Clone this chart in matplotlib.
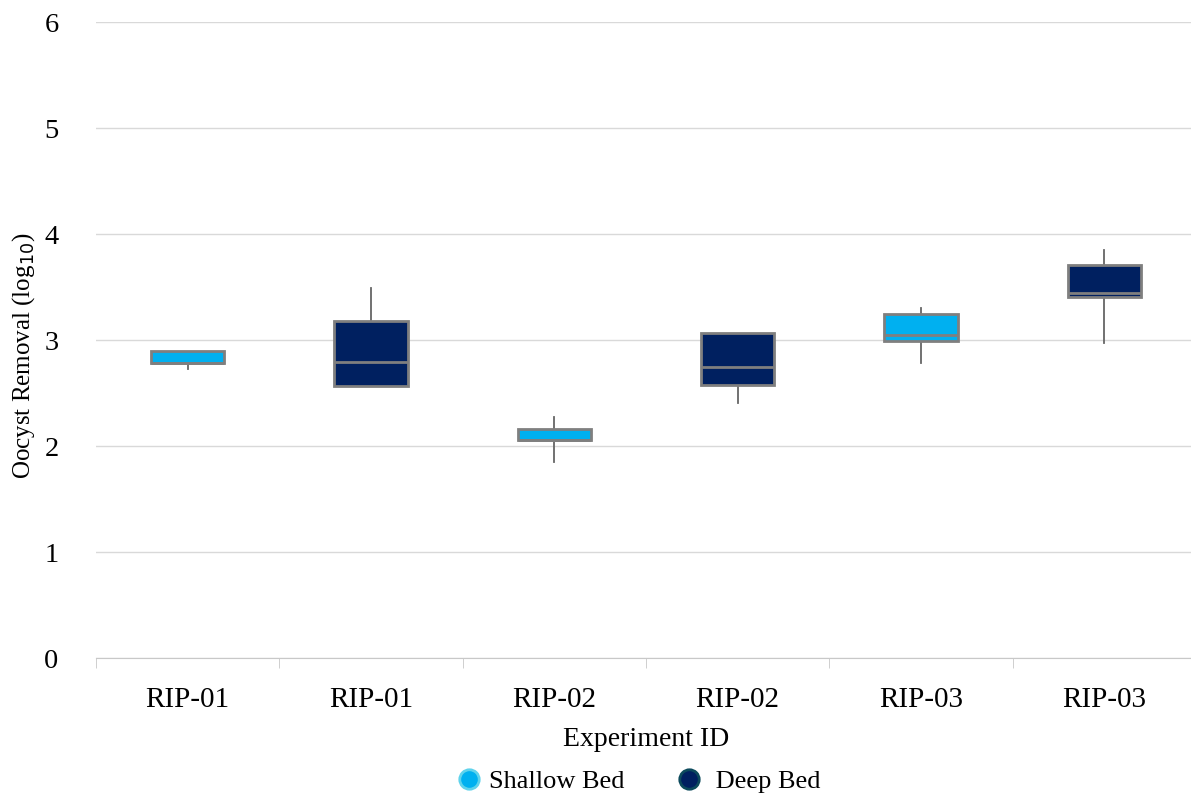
import matplotlib.pyplot as plt
from matplotlib.lines import Line2D

plt.rcParams["font.family"] = ["Liberation Serif", "DejaVu Serif"]

# Oocyst removal summary per column (log10)
experiments = ["RIP-01", "RIP-01", "RIP-02", "RIP-02", "RIP-03", "RIP-03"]
bed = ["shallow", "deep", "shallow", "deep", "shallow", "deep"]
whislo = [2.73, 2.57, 1.85, 2.41, 2.78, 2.97]
q1 = [2.78, 2.57, 2.06, 2.58, 2.99, 3.41]
med = [2.78, 2.79, 2.06, 2.75, 3.05, 3.44]
q3 = [2.90, 3.18, 2.16, 3.07, 3.25, 3.71]
whishi = [2.90, 3.49, 2.27, 3.07, 3.30, 3.85]

colors = {"shallow": "#00B0F0", "deep": "#002060"}
edge = "#7f7f7f"

fig = plt.figure(figsize=(11.91, 7.96), dpi=100)
ax = fig.add_axes([96 / 1191, 1 - 658 / 796, 1100 / 1191, 636 / 796])

stats = []
for i in range(len(experiments)):
    stats.append(dict(label=experiments[i], whislo=whislo[i], q1=q1[i],
                      med=med[i], q3=q3[i], whishi=whishi[i]))

bp = ax.bxp(stats, positions=range(len(stats)), widths=0.4, patch_artist=True,
            showfliers=False, showcaps=False,
            boxprops=dict(edgecolor=edge, linewidth=2),
            medianprops=dict(color=edge, linewidth=2),
            whiskerprops=dict(color="#666666", linewidth=1.3))
for patch, b in zip(bp["boxes"], bed):
    patch.set_facecolor(colors[b])
    patch.set_zorder(3)
for m in bp["medians"]:
    m.set_zorder(4)

ax.set_xlim(-0.5, 5.5)
ax.set_ylim(0, 6)
ax.set_yticks(range(7))
ax.grid(axis="y", color="#d9d9d9", linewidth=1)
ax.set_axisbelow(True)

for s in ["top", "right", "left"]:
    ax.spines[s].set_visible(False)
ax.spines["bottom"].set_color("#c8c8c8")

ax.set_xticks(range(len(experiments)))
ax.set_xticklabels(experiments)
ax.set_xticks([x - 0.5 for x in range(len(experiments) + 1)], minor=True)
ax.tick_params(axis="x", which="major", length=0, pad=21, labelsize=21)
ax.tick_params(axis="x", which="minor", length=7, color="#c8c8c8")
ax.tick_params(axis="y", length=0, pad=27, labelsize=20.5)

ax.set_xlabel("Experiment ID", fontsize=20)
ax.xaxis.set_label_coords(0.5, -0.108)
ax.set_ylabel("Oocyst Removal (log$_{10}$)", fontsize=18, va="center")
ax.yaxis.set_label_coords(-0.066, 0.475)

handles = [
    Line2D([], [], marker="o", linestyle="none", markersize=14,
           markerfacecolor=colors["shallow"], markeredgecolor="#5fd3ec",
           markeredgewidth=2, label="Shallow Bed"),
    Line2D([], [], marker="o", linestyle="none", markersize=14,
           markerfacecolor=colors["deep"], markeredgecolor="#0c4a5c",
           markeredgewidth=2, label=" Deep Bed"),
]
fig.legend(handles=handles, loc="center", bbox_to_anchor=(0.536, 1 - 781 / 796),
           ncol=2, frameon=False, fontsize=19, handletextpad=0.25,
           columnspacing=1.95, handlelength=1.0)

fig.savefig("out.png", dpi=100)
